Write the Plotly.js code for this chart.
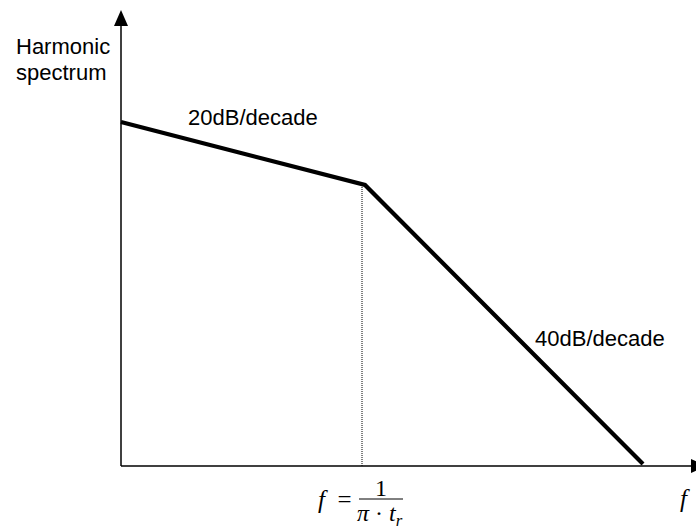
<!DOCTYPE html>
<html>
<head>
<meta charset="utf-8">
<script src="https://cdn.plot.ly/plotly-3.0.1.min.js"></script>
<style>html,body{margin:0;padding:0;background:#fff;}#chart{width:696px;height:529px;}</style>
</head>
<body>
<div id="chart"></div>
<script>
// Schematic data (arbitrary units: frequency along x, harmonic level along y)
const freq = [0, 244, 522];
const level = [344, 281, 2];
const kneeFreq = 241;           // corner frequency f = 1/(pi*t_r)
const kneeLevel = 280;
const slopeLabels = ["20dB/decade", "40dB/decade"];
const yLabelLines = ["Harmonic", "spectrum"];
const xLabel = "f";

const sans = "Liberation Sans, Arial, sans-serif";
const serif = "Liberation Serif, Times New Roman, serif";

const traces = [
  {x: [kneeFreq, kneeFreq], y: [0, kneeLevel], mode: "lines",
   line: {color: "#000", width: 1, dash: "1px,1px"}, hoverinfo: "skip"},
  {x: freq, y: level, mode: "lines",
   line: {color: "#000", width: 4.2}, hoverinfo: "skip"}
];

const shapes = [
  // axes
  {type: "line", xref: "x", yref: "y", x0: 0, y0: 0, x1: 0, y1: 445, line: {color: "#000", width: 1.5}},
  {type: "line", xref: "x", yref: "y", x0: 0, y0: 0, x1: 575, y1: 0, line: {color: "#000", width: 1.5}},
  // arrowheads
  {type: "path", xref: "x", yref: "y", path: "M0,456 L-7,440 L7,440 Z", fillcolor: "#000", line: {color: "#000", width: 0}},
  {type: "path", xref: "x", yref: "y", path: "M586,0 L570,7 L570,-7 Z", fillcolor: "#000", line: {color: "#000", width: 0}},
  // fraction bar
  {type: "line", xref: "x", yref: "y", x0: 238, y0: -33, x1: 282, y1: -33, line: {color: "#000", width: 1}}
];

const annotations = [
  {x: -107, y: 420, text: yLabelLines[0], xanchor: "left", yanchor: "middle", showarrow: false, font: {family: sans, size: 22, color: "#000"}},
  {x: -107, y: 394, text: yLabelLines[1], xanchor: "left", yanchor: "middle", showarrow: false, font: {family: sans, size: 22, color: "#000"}},
  {x: 65, y: 349, text: slopeLabels[0], xanchor: "left", yanchor: "middle", showarrow: false, font: {family: sans, size: 22, color: "#000"}},
  {x: 412, y: 128, text: slopeLabels[1], xanchor: "left", yanchor: "middle", showarrow: false, font: {family: sans, size: 22, color: "#000"}},
  {x: 233, y: -33, text: "<i>f</i>&nbsp;&nbsp;=", xanchor: "right", yanchor: "middle", showarrow: false, font: {family: serif, size: 25, color: "#000"}},
  {x: 260, y: -22, text: "1", xanchor: "center", yanchor: "middle", showarrow: false, font: {family: serif, size: 24, color: "#000"}},
  {x: 259, y: -49, text: "<i>π</i>&nbsp;·&nbsp;<i>t</i><sub><i>r</i></sub>", xanchor: "center", yanchor: "middle", showarrow: false, font: {family: serif, size: 24, color: "#000"}},
  {x: 564, y: -32, text: "<i>" + xLabel + "</i>", xanchor: "center", yanchor: "middle", showarrow: false, font: {family: serif, size: 25, color: "#000"}}
];

const layout = {
  width: 696, height: 529,
  margin: {l: 0, r: 0, t: 0, b: 0, pad: 0},
  paper_bgcolor: "#fff", plot_bgcolor: "#fff",
  showlegend: false,
  xaxis: {range: [-121, 575], visible: false, fixedrange: true},
  yaxis: {range: [-63, 466], visible: false, fixedrange: true},
  shapes: shapes,
  annotations: annotations
};

Plotly.newPlot("chart", traces, layout, {displayModeBar: false, staticPlot: true});
</script>
</body>
</html>
